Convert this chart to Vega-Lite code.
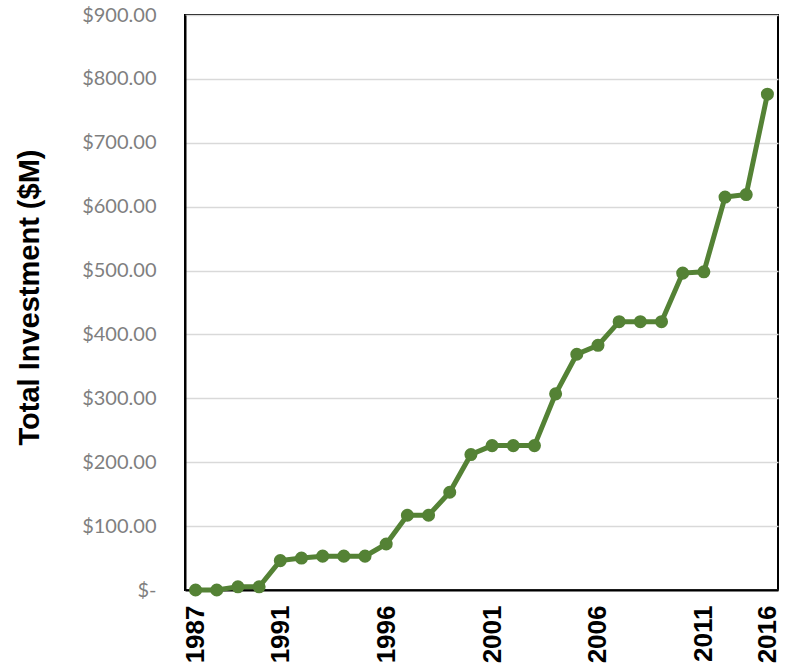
{
  "$schema": "https://vega.github.io/schema/vega-lite/v6.json",
  "width": 593,
  "height": 575,
  "autosize": {"type": "none"},
  "padding": {"left": 185, "top": 15, "right": 12, "bottom": 81},
  "background": "white",
  "config": {
    "view": {"stroke": "black", "strokeWidth": 2},
    "axis": {"domainColor": "black", "domainWidth": 2, "ticks": false, "grid": false}
  },
  "data": {
    "values": [
      {"year": "1987", "investment": 0},
      {"year": "1988", "investment": 0},
      {"year": "1989", "investment": 5},
      {"year": "1990", "investment": 5},
      {"year": "1991", "investment": 46},
      {"year": "1992", "investment": 50},
      {"year": "1993", "investment": 53},
      {"year": "1994", "investment": 53},
      {"year": "1995", "investment": 53},
      {"year": "1996", "investment": 72},
      {"year": "1997", "investment": 117},
      {"year": "1998", "investment": 117},
      {"year": "1999", "investment": 153},
      {"year": "2000", "investment": 212},
      {"year": "2001", "investment": 226},
      {"year": "2002", "investment": 226},
      {"year": "2003", "investment": 226},
      {"year": "2004", "investment": 307},
      {"year": "2005", "investment": 369},
      {"year": "2006", "investment": 383},
      {"year": "2007", "investment": 420},
      {"year": "2008", "investment": 420},
      {"year": "2009", "investment": 420},
      {"year": "2010", "investment": 496},
      {"year": "2011", "investment": 498},
      {"year": "2012", "investment": 615},
      {"year": "2014", "investment": 619},
      {"year": "2016", "investment": 776}
    ]
  },
  "encoding": {
    "x": {
      "field": "year",
      "type": "ordinal",
      "scale": {"type": "point", "padding": 0.5},
      "axis": {
        "title": null,
        "values": ["1987", "1991", "1996", "2001", "2006", "2011", "2016"],
        "labelAngle": -90,
        "labelFont": "Liberation Sans",
        "labelFontWeight": "bold",
        "labelFontSize": 26,
        "labelColor": "black",
        "labelPadding": 15,
        "labelOverlap": false
      }
    },
    "y": {
      "field": "investment",
      "type": "quantitative",
      "scale": {"domain": [0, 900], "nice": false},
      "axis": {
        "title": "Total Investment ($M)",
        "titleFont": "Liberation Sans",
        "titleFontWeight": "bold",
        "titleFontSize": 29,
        "titleColor": "black",
        "titleX": -141,
        "titleY": 282,
        "values": [0, 100, 200, 300, 400, 500, 600, 700, 800, 900],
        "labelExpr": "datum.value === 0 ? '$-  ' : '$' + format(datum.value, ',.2f')",
        "labelFont": "Lato",
        "labelFontSize": 20,
        "labelColor": "#7f7f7f",
        "labelPadding": 29,
        "grid": true,
        "gridColor": "#d9d9d9",
        "gridWidth": 1.5
      }
    }
  },
  "layer": [
    {"mark": {"type": "line", "color": "#548235", "strokeWidth": 5}},
    {"mark": {"type": "point", "filled": true, "opacity": 1, "color": "#548235", "size": 170}}
  ]
}
